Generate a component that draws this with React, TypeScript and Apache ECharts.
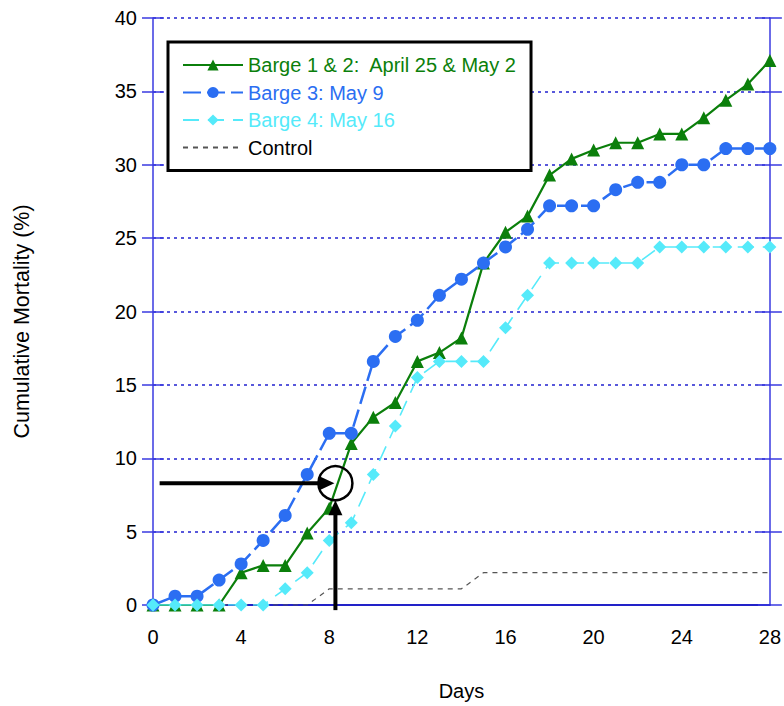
import React, { useEffect, useRef } from "react";
import * as echarts from "echarts";

const days = [0, 1, 2, 3, 4, 5, 6, 7, 8, 9, 10, 11, 12, 13, 14, 15, 16, 17, 18, 19, 20, 21, 22, 23, 24, 25, 26, 27, 28];
const barge12 = [0, 0, 0, 0, 2.2, 2.7, 2.7, 4.9, 6.6, 11.0, 12.8, 13.8, 16.6, 17.2, 18.2, 23.3, 25.4, 26.5, 29.3, 30.4, 31.0, 31.5, 31.5, 32.1, 32.1, 33.2, 34.4, 35.5, 37.1];
const barge3 = [0, 0.6, 0.6, 1.7, 2.8, 4.4, 6.1, 8.9, 11.7, 11.7, 16.6, 18.3, 19.4, 21.1, 22.2, 23.3, 24.4, 25.6, 27.2, 27.2, 27.2, 28.3, 28.8, 28.8, 30.0, 30.0, 31.1, 31.1, 31.1];
const barge4 = [0, 0, 0, 0, 0, 0, 1.1, 2.2, 4.4, 5.6, 8.9, 12.2, 15.5, 16.6, 16.6, 16.6, 18.9, 21.1, 23.3, 23.3, 23.3, 23.3, 23.3, 24.4, 24.4, 24.4, 24.4, 24.4, 24.4];
const control = [0, 0, 0, 0, 0, 0, 0, 0, 1.1, 1.1, 1.1, 1.1, 1.1, 1.1, 1.1, 2.2, 2.2, 2.2, 2.2, 2.2, 2.2, 2.2, 2.2, 2.2, 2.2, 2.2, 2.2, 2.2, 2.2];

const seriesNames = ["Barge 1 & 2:  April 25 & May 2", "Barge 3: May 9", "Barge 4: May 16", "Control"];
const seriesColors = ["#0B7F0B", "#2B6EF2", "#55EAFA", "#555555"];

// annotation anchor (days, %)
const markX = 8.28;
const markY = 8.3;
const arrowStartX = 0.3;
const arrowBottomY = -0.35;

const FONT = "'Liberation Sans', Arial, Helvetica, sans-serif";

const pairs = (vals: number[]) => days.map((d, i) => [d, vals[i]]);

export default function App() {
  const ref = useRef<HTMLDivElement>(null);
  useEffect(() => {
    if (!ref.current) return;
    const chart = echarts.init(ref.current, null, { renderer: "svg" });
    const yBase = { type: "value", min: 0, max: 40, interval: 5 };
    const option: any = {
      animation: false,
      backgroundColor: "#ffffff",
      textStyle: { fontFamily: FONT },
      grid: { left: 153, right: 12, top: 18, bottom: 101, containLabel: false },
      legend: {
        orient: "vertical",
        left: 168,
        top: 42,
        padding: [13, 14, 13, 14],
        itemGap: 7.5,
        itemWidth: 60,
        itemHeight: 14,
        borderColor: "#000000",
        borderWidth: 3,
        backgroundColor: "#ffffff",
        data: seriesNames.map((n, i) =>
          i === 3
            ? { name: n, textStyle: { color: "#000000" }, itemStyle: { opacity: 0 } }
            : { name: n, textStyle: { color: seriesColors[i] } }
        ),
        textStyle: { fontSize: 20, fontFamily: FONT },
      },
      xAxis: {
        type: "value",
        min: 0,
        max: 28,
        interval: 4,
        name: "Days",
        nameLocation: "middle",
        nameGap: 76,
        nameTextStyle: { fontSize: 20, color: "#000", fontFamily: FONT },
        axisLine: { show: true, onZero: false, lineStyle: { color: "#2222C8", width: 2 } },
        axisTick: { show: false },
        axisLabel: { fontSize: 20, color: "#000", margin: 22, fontFamily: FONT },
        splitLine: { show: false },
      },
      yAxis: [
        {
          ...yBase,
          position: "left",
          name: "Cumulative Mortality (%)",
          nameLocation: "middle",
          nameGap: 120,
          nameRotate: 90,
          nameTextStyle: { fontSize: 21.5, color: "#000", fontFamily: FONT, padding: [0, 20, 0, 0] },
          axisLine: { show: true, lineStyle: { color: "#3A3AE0", width: 1.5 } },
          axisTick: { show: true, inside: false, length: 11, lineStyle: { color: "#3A3AE0", width: 1.5 } },
          axisLabel: { fontSize: 20, color: "#000", margin: 16, fontFamily: FONT },
          splitLine: { show: true, lineStyle: { color: "#2222D0", width: 1.5, type: [3, 4] } },
        },
        {
          ...yBase,
          position: "left",
          axisLine: { show: false },
          axisTick: { show: true, inside: true, length: 11, lineStyle: { color: "#3A3AE0", width: 1.5 } },
          axisLabel: { show: false },
          splitLine: { show: false },
        },
        {
          ...yBase,
          position: "right",
          axisLine: { show: true, lineStyle: { color: "#3A3AE0", width: 1.5 } },
          axisTick: { show: true, inside: true, length: 12, lineStyle: { color: "#3A3AE0", width: 1.5 } },
          axisLabel: { show: false },
          splitLine: { show: false },
        },
        {
          ...yBase,
          position: "right",
          axisLine: { show: false },
          axisTick: { show: true, inside: false, length: 12, lineStyle: { color: "#3A3AE0", width: 1.5 } },
          axisLabel: { show: false },
          splitLine: { show: false },
        },
      ],
      series: [
        {
          name: seriesNames[0],
          type: "line",
          data: pairs(barge12),
          symbol: "triangle",
          symbolSize: 13,
          color: seriesColors[0],
          lineStyle: { color: seriesColors[0], width: 2.2 },
          itemStyle: { color: seriesColors[0] },
          z: 3,
        },
        {
          name: seriesNames[1],
          type: "line",
          data: pairs(barge3),
          symbol: "circle",
          symbolSize: 13,
          color: seriesColors[1],
          lineStyle: { color: seriesColors[1], width: 2.5, type: [18, 6] },
          itemStyle: { color: seriesColors[1] },
          z: 4,
        },
        {
          name: seriesNames[2],
          type: "line",
          data: pairs(barge4),
          symbol: "diamond",
          symbolSize: 13,
          color: seriesColors[2],
          lineStyle: { color: seriesColors[2], width: 1.6, type: [16, 9] },
          itemStyle: { color: seriesColors[2] },
          z: 5,
        },
        {
          name: seriesNames[3],
          type: "line",
          data: pairs(control),
          symbol: "none",
          showSymbol: false,
          color: seriesColors[3],
          lineStyle: { color: seriesColors[3], width: 1.2, type: [5, 5] },
          itemStyle: { color: seriesColors[3] },
          z: 2,
        },
      ],
    };
    chart.setOption(option);

    const toPx = (x: number, y: number) =>
      chart.convertToPixel({ xAxisIndex: 0, yAxisIndex: 0 }, [x, y]) as number[];
    const c = toPx(markX, markY);
    const s = toPx(arrowStartX, markY);
    const b = toPx(markX, arrowBottomY);
    const r = 17;
    const headLen = 15;
    const headHalf = 7;
    const hTip = [c[0] - 1, c[1]];
    const vTip = [c[0], c[1] + r];
    chart.setOption({
      graphic: [
        {
          type: "line",
          shape: { x1: s[0], y1: s[1], x2: hTip[0] - headLen + 2, y2: hTip[1] },
          style: { stroke: "#000", lineWidth: 4 },
          z: 100,
        },
        {
          type: "polygon",
          shape: {
            points: [
              [hTip[0], hTip[1]],
              [hTip[0] - headLen, hTip[1] - headHalf],
              [hTip[0] - headLen, hTip[1] + headHalf],
            ],
          },
          style: { fill: "#000" },
          z: 100,
        },
        {
          type: "line",
          shape: { x1: b[0], y1: b[1], x2: vTip[0], y2: vTip[1] + headLen - 2 },
          style: { stroke: "#000", lineWidth: 4 },
          z: 100,
        },
        {
          type: "polygon",
          shape: {
            points: [
              [vTip[0], vTip[1]],
              [vTip[0] - headHalf, vTip[1] + headLen],
              [vTip[0] + headHalf, vTip[1] + headLen],
            ],
          },
          style: { fill: "#000" },
          z: 100,
        },
        {
          type: "circle",
          shape: { cx: c[0], cy: c[1], r },
          style: { stroke: "#000", lineWidth: 2.5, fill: "none" },
          z: 100,
        },
      ],
    });

    return () => chart.dispose();
  }, []);

  return (
    <div
      ref={ref}
      style={{ position: "fixed", left: 0, top: 0, width: 784, height: 706, background: "#fff" }}
    />
  );
}
